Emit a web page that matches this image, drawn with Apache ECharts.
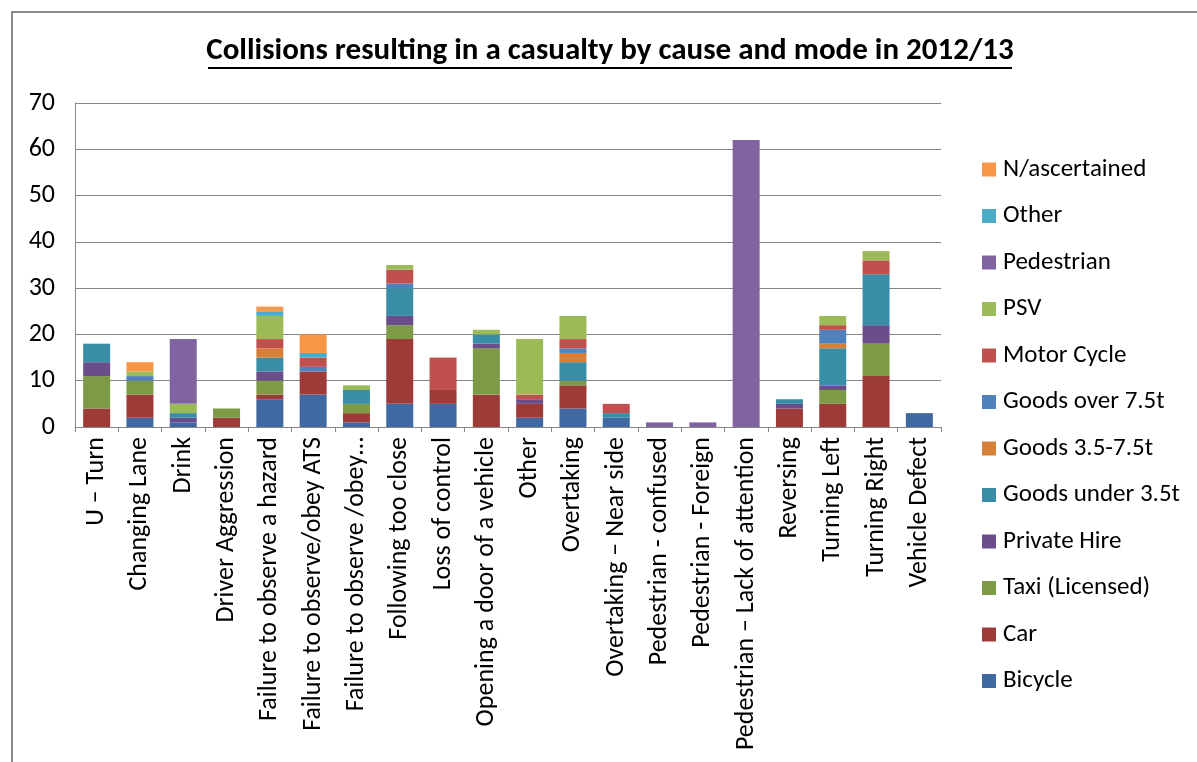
<!DOCTYPE html>
<html><head><meta charset="utf-8">
<script src="https://cdn.jsdelivr.net/npm/echarts@6/dist/echarts.min.js"></script>
<style>html,body{margin:0;padding:0;background:#fff}#c{width:1197px;height:762px}</style>
</head><body><div id="c"></div>
<script>
const categories = ["U – Turn","Changing Lane","Drink","Driver Aggression","Failure to observe a hazard","Failure to observe/obey ATS","Failure to observe /obey…","Following too close","Loss of control","Opening a door of a vehicle","Other","Overtaking","Overtaking – Near side","Pedestrian - confused","Pedestrian - Foreign","Pedestrian – Lack of attention","Reversing","Turning Left","Turning Right","Vehicle Defect"];
const yTicks = [0,10,20,30,40,50,60,70];
const bicycle      = [0,2,1,0,6,7,1,5,5,0,2,4,2,0,0,0,0,0,0,3];
const car          = [4,5,0,2,1,5,2,14,3,7,3,5,0,0,0,0,4,5,11,0];
const taxi         = [7,3,0,2,3,0,2,3,0,10,0,1,0,0,0,0,0,3,7,0];
const privateHire  = [3,0,1,0,2,0,0,2,0,1,1,0,0,0,0,0,1,1,4,0];
const goodsUnder35 = [4,0,1,0,3,0,3,6,0,2,0,4,1,0,0,0,1,8,11,0];
const goods35to75  = [0,0,0,0,2,0,0,0,0,0,0,2,0,0,0,0,0,1,0,0];
const goodsOver75  = [0,1,0,0,0,1,0,1,0,0,0,1,0,0,0,0,0,3,0,0];
const motorCycle   = [0,0,0,0,2,2,0,3,7,0,1,2,2,0,0,0,0,1,3,0];
const psv          = [0,1,2,0,5,0,1,1,0,1,12,5,0,0,0,0,0,2,2,0];
const pedestrian   = [0,0,14,0,0,0,0,0,0,0,0,0,0,1,1,62,0,0,0,0];
const other        = [0,0,0,0,1,1,0,0,0,0,0,0,0,0,0,0,0,0,0,0];
const notAscert    = [0,2,0,0,1,4,0,0,0,0,0,0,0,0,0,0,0,0,0,0];

const seriesDefs = [
  ["Bicycle", bicycle, "#3F69A0"],
  ["Car", car, "#9D3B38"],
  ["Taxi (Licensed)", taxi, "#7D9A46"],
  ["Private Hire", privateHire, "#694E8B"],
  ["Goods under 3.5t", goodsUnder35, "#3A8DA6"],
  ["Goods 3.5-7.5t", goods35to75, "#D67F36"],
  ["Goods over 7.5t", goodsOver75, "#4F81BD"],
  ["Motor Cycle", motorCycle, "#C0504D"],
  ["PSV", psv, "#9BBB59"],
  ["Pedestrian", pedestrian, "#8064A2"],
  ["Other", other, "#4BACC6"],
  ["N/ascertained", notAscert, "#F79646"]
];
const FONT = "Carlito, Lato, sans-serif";
const chart = echarts.init(document.getElementById('c'));
chart.setOption({
  animation: false,
  textStyle: {fontFamily: FONT},
  graphic: [
    {type:'rect', shape:{x:12,y:12,width:1200,height:800}, style:{fill:'none', stroke:'#8a8a8a', lineWidth:2}},
    {type:'text', x:610, y:36, style:{text:'Collisions resulting in a casualty by cause and mode in 2012/13', font:'bold 31px '+FONT, fill:'#000', textAlign:'center'}},
    {type:'line', shape:{x1:208,y1:68,x2:1012,y2:68}, style:{stroke:'#000', lineWidth:2}}
  ],
  grid: {left:75, right:256, top:103, bottom:335, containLabel:false},
  legend: {
    orient:'vertical', left:977, top:152,
    data: seriesDefs.map(s=>s[0]).reverse(),
    icon:'rect', itemWidth:14, itemHeight:14, itemGap:21.5,
    textStyle:{fontSize:25, color:'#000', fontFamily:FONT, padding:[0,0,0,2]}
  },
  xAxis: {
    type:'category', data: categories,
    axisLine:{lineStyle:{color:'#868686'}},
    axisTick:{show:true, length:5, lineStyle:{color:'#868686'}},
    axisLabel:{rotate:90, fontSize:26, color:'#000', margin:10, interval:0, fontFamily:FONT}
  },
  yAxis: {
    type:'value', min:yTicks[0], max:yTicks[yTicks.length-1], interval:10,
    axisLine:{show:true, lineStyle:{color:'#868686'}},
    axisTick:{show:false},
    splitLine:{lineStyle:{color:'#868686'}},
    axisLabel:{fontSize:26, color:'#000', margin:20, fontFamily:FONT}
  },
  series: seriesDefs.map(s=>({
    name:s[0], type:'bar', stack:'all', data:s[1], barWidth:27,
    itemStyle:{color:s[2]}
  }))
});
</script></body></html>
